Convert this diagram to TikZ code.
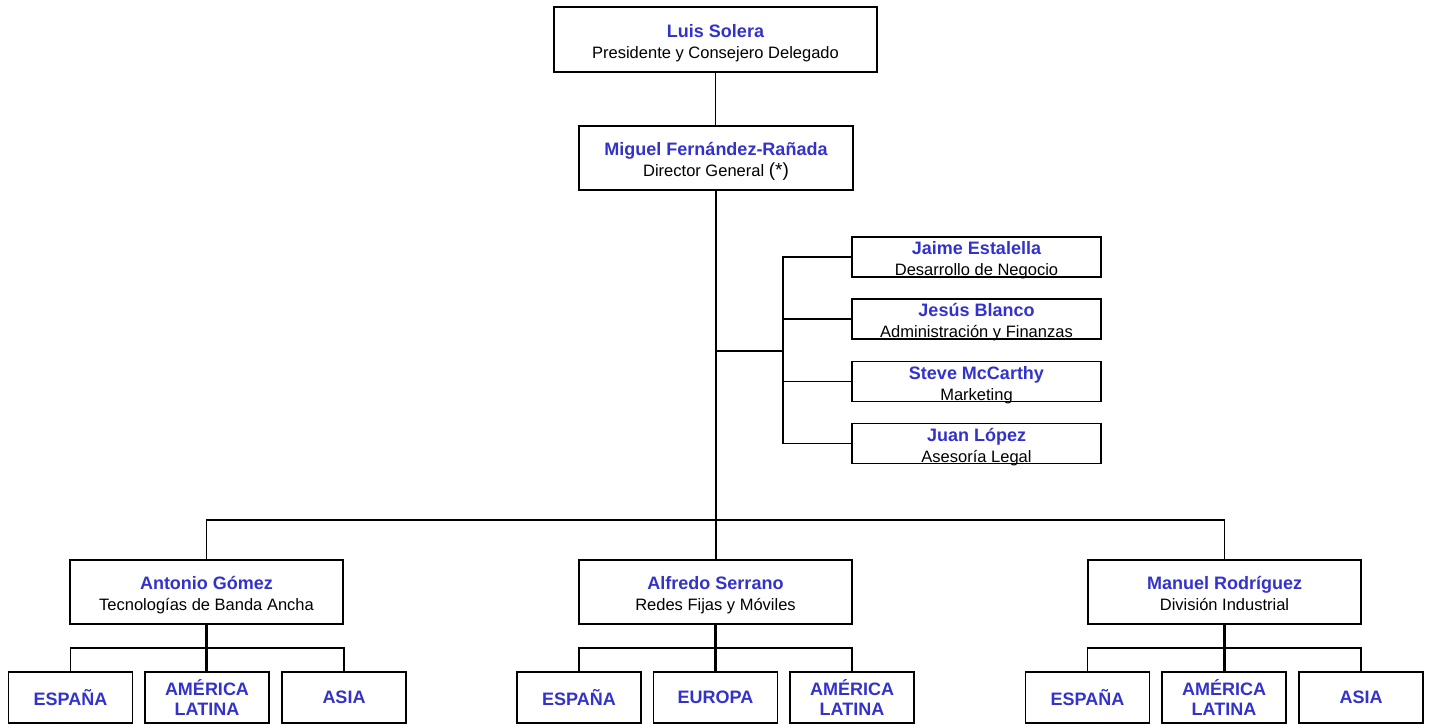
\documentclass[tikz,border=0pt]{standalone}
\usepackage{fontspec}
\setmainfont{Liberation Sans}
\definecolor{nameblue}{RGB}{51,51,204}
\newcommand{\nm}[1]{{\fontsize{18}{21}\selectfont\bfseries\color{nameblue}#1}}
\newcommand{\rl}[1]{{\fontsize{16.5}{21}\selectfont #1}}
\newcommand{\two}[2]{\raisebox{-4pt}[\dimexpr\height-1.5pt\relax][\dimexpr\depth-1.5pt\relax]{\fontsize{16.5}{21}\selectfont\begin{tabular}{@{}c@{}}\nm{#1}\\\rl{#2}\end{tabular}}}
\begin{document}
\begin{tikzpicture}[x=1pt,y=-1pt,
  box/.style={draw=black,line width=1.4pt,fill=white,rectangle,outer sep=0pt,inner sep=0pt,align=center,
     font=\fontsize{16.5}{21}\selectfont},
  mgr/.style={box,minimum width=273pt,minimum height=64pt},
  staff/.style={box,minimum width=249pt,minimum height=40pt},
  region/.style={box,minimum width=124pt,minimum height=51pt},
  conn/.style={line width=1.4pt},
  trunk/.style={line width=2.2pt}]
\useasboundingbox (0,0) rectangle (1431,724);
% top
\node[box,minimum width=323pt,minimum height=65pt] (ls) at (715.5,39.5) {\two{Luis Solera}{Presidente y Consejero Delegado}};
\node[box,minimum width=274pt,minimum height=64pt] (dg) at (716,158) {\two{Miguel Fernández-Rañada}{Director General {\fontsize{19}{21}\selectfont(*)}}};
% staff
\node[staff] (je) at (976.5,257) {\two{Jaime Estalella}{Desarrollo de Negocio}};
\node[staff] (jb) at (976.5,319) {\two{Jesús Blanco}{Administración y Finanzas}};
\node[staff] (sm) at (976.5,381.5) {\two{Steve McCarthy}{Marketing}};
\node[staff] (jl) at (976.5,443.5) {\two{Juan López}{Asesoría Legal}};
% managers
\node[mgr] (ag) at (206.5,592) {\two{Antonio Gómez}{Tecnologías de Banda Ancha}};
\node[mgr] (as) at (715.5,592) {\two{Alfredo Serrano}{Redes Fijas y Móviles}};
\node[mgr] (mr) at (1224.5,592) {\two{Manuel Rodríguez}{División Industrial}};
% regions
\node[region] (ag1) at (70.5,697.5) {\nm{ESPAÑA}};
\node[region] (ag2) at (207,697.5) {\nm{AMÉRICA}\\[-1pt]\nm{LATINA}};
\node[region] (ag3) at (344,697.5) {\nm{ASIA}};
\node[region] (as1) at (579,697.5) {\nm{ESPAÑA}};
\node[region] (as2) at (715.5,697.5) {\nm{EUROPA}};
\node[region] (as3) at (852,697.5) {\nm{AMÉRICA}\\[-1pt]\nm{LATINA}};
\node[region] (mr1) at (1087.5,697.5) {\nm{ESPAÑA}};
\node[region] (mr2) at (1224,697.5) {\nm{AMÉRICA}\\[-1pt]\nm{LATINA}};
\node[region] (mr3) at (1361,697.5) {\nm{ASIA}};
% connectors
\draw[conn] (ls.south) -- (ls.south |- dg.north);
\draw[trunk] (dg.south) -- (dg.south |- as.north);
\coordinate (tj) at (716,351);
\coordinate (br) at (783,351);
\draw[trunk] (tj) -- (br);
\draw[conn] (je.west) -| (br);
\draw[conn] (jl.west) -| (br);
\draw[conn] (jb.west) -- (jb.west -| br);
\draw[conn] (sm.west) -- (sm.west -| br);
\draw[conn] (ag.north) -- ++(0,-40) -| (mr.north);
\foreach \m in {ag,as,mr}{
  \draw[trunk] (\m.south) -- (\m.south |- \m2.north);
  \draw[conn] (\m1.north) -- ++(0,-24) -| (\m3.north);
}
\end{tikzpicture}
\end{document}
